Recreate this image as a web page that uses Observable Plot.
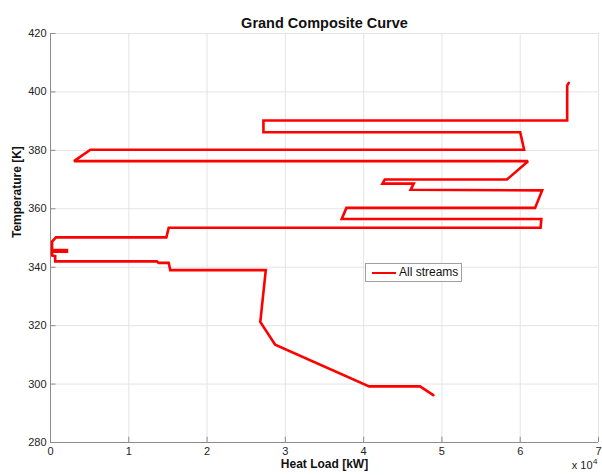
<!DOCTYPE html>
<html>
<head>
<meta charset="utf-8">
<script src="https://cdn.jsdelivr.net/npm/d3@7"></script>
<script src="https://cdn.jsdelivr.net/npm/@observablehq/plot@0.6"></script>
<style>
  html, body { margin: 0; padding: 0; background: #fff; }
  #wrap { position: relative; width: 602px; height: 475px; font-family: "Liberation Sans", Arial, sans-serif; }
  #legend { position: absolute; left: 365px; top: 263px; width: 95px; height: 17px; border: 1px solid #a0a0a0; background: #fff; box-sizing: content-box; }
  #legend .sw { position: absolute; left: 6px; top: 7.5px; width: 24px; height: 2.5px; background: #ff0000; }
  #legend .lb { position: absolute; left: 33px; top: 1px; font-size: 12px; color: #111; white-space: nowrap; }
</style>
</head>
<body>
<div id="wrap"><div id="legend"><div class="sw"></div><div class="lb"></div></div></div>
<script>
// Heat load in kW (axis shown in units of 10^4)
const heatLoad = [66200, 66000, 66000, 27200, 27200, 60000, 60500, 5100, 3000, 61000, 58300, 42700, 42400, 46400, 46000, 62800, 61900, 37800, 37200, 62700, 62600, 15100, 14800, 700, 200, 200, 2100, 2100, 200, 200, 600, 600, 13600, 13800, 15100, 15300, 27500, 26800, 28700, 40700, 47200, 48900];
// Temperature in K
const temperature = [403.1, 402.2, 390.2, 390.2, 386.2, 386.2, 380.2, 380.2, 376.3, 376.3, 370.0, 370.0, 368.6, 368.6, 366.5, 366.3, 360.3, 360.3, 356.5, 356.5, 353.5, 353.5, 350.2, 350.2, 348.8, 345.9, 345.9, 345.3, 345.3, 344.0, 343.8, 342.0, 342.0, 341.5, 341.5, 339.0, 339.0, 321.3, 313.5, 299.2, 299.2, 296.2];
const xTicks = [0, 10000, 20000, 30000, 40000, 50000, 60000, 70000];
const yTicks = [280, 300, 320, 340, 360, 380, 400, 420];
const seriesName = "All streams";
const titleText = "Grand Composite Curve";
const xLabel = "Heat Load [kW]";
const yLabel = "Temperature [K]";
const xExponentBase = "x 10";
const xExponentPower = "4";

const data = heatLoad.map((h, i) => ({h, t: temperature[i]}));
const font = "Liberation Sans, Arial, sans-serif";
const fmtX = d => String(d / 10000);

const chart = Plot.plot({
  width: 602,
  height: 475,
  marginLeft: 50,
  marginRight: 4,
  marginTop: 33,
  marginBottom: 33,
  style: {fontFamily: font, fontSize: "11px", color: "#222", background: "#fff"},
  x: {domain: [0, 70000], ticks: xTicks, tickFormat: fmtX},
  y: {domain: [280, 420], ticks: yTicks},
  marks: [
    Plot.gridX(xTicks, {stroke: "#e4e4e4", strokeOpacity: 1}),
    Plot.gridY(yTicks, {stroke: "#e4e4e4", strokeOpacity: 1}),
    Plot.ruleX([0], {stroke: "#8c8c8c"}),
    Plot.ruleY([280], {stroke: "#8c8c8c"}),
    Plot.ruleX(xTicks, {y1: 280, y2: 281.8, stroke: "#8c8c8c"}),
    Plot.ruleY(yTicks, {x1: 0, x2: 700, stroke: "#8c8c8c"}),
    Plot.axisX(xTicks, {tickSize: 0, tickPadding: 5, label: null, tickFormat: fmtX, fontSize: 11, fill: "#222"}),
    Plot.axisY(yTicks, {tickSize: 0, tickPadding: 4, label: null, fontSize: 11, fill: "#222"}),
    Plot.line(data, {x: "h", y: "t", stroke: "#ff0000", strokeWidth: 2.6, strokeLinejoin: "miter", strokeMiterlimit: 2}),
    Plot.text([titleText], {frameAnchor: "top", dy: -16, fontSize: 14.5, fontWeight: "bold", fill: "#111"}),
    Plot.text([xLabel], {frameAnchor: "bottom", dy: 25, fontSize: 12, fontWeight: "bold", fill: "#111"}),
    Plot.text([yLabel], {frameAnchor: "left", dx: -33, rotate: -90, fontSize: 12, fontWeight: "bold", fill: "#111"}),
    Plot.text([xExponentBase], {frameAnchor: "bottom-right", dy: 26, dx: -6, textAnchor: "end", fontSize: 11, fill: "#222"}),
    Plot.text([xExponentPower], {frameAnchor: "bottom-right", dy: 21, dx: -1, textAnchor: "end", fontSize: 8, fill: "#222"})
  ]
});
document.getElementById("wrap").prepend(chart);
document.querySelector("#legend .lb").textContent = seriesName;
</script>
</body>
</html>
